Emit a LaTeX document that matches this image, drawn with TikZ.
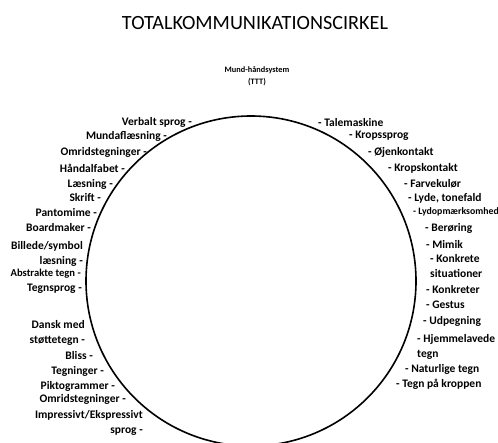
\documentclass[tikz,border=0pt]{standalone}
\usepackage{fontspec}
\setmainfont{Carlito}
\usetikzlibrary{positioning}
\tikzset{
  lbl/.style = {inner sep=0pt, font=\bfseries\fontsize{11.5}{15.5}\selectfont},
  lbl_l/.style = {lbl, anchor=east, align=right},
  lbl_r/.style = {lbl, anchor=west, align=left},
  ring/.style = {draw=black, line width=1.6pt}
}
\begin{document}
\begin{tikzpicture}[x=1pt, y=-1pt]
    \useasboundingbox (0,0) rectangle (498,443);
    \clip (0,0) rectangle (498,443);
    % title and top label
    \node[inner sep=0pt, font=\fontsize{20.2}{22}\selectfont] (title) at (255,23) {TOTALKOMMUNIKATIONSCIRKEL};
    \node[inner sep=0pt, align=center, font=\bfseries\fontsize{8.3}{12}\selectfont] (mund) at (257,76) {Mund-håndsystem\\(TTT)};
    % the circle
    \coordinate (ctr) at (251,281);
    \draw[ring] (ctr) circle[radius=165];
    % left side
    \node[lbl_l] (verbalt) at (192,122) {Verbalt sprog -};
    \node[lbl_l] (mundafl) at (167,136) {Mundaflæsning -};
    \node[lbl_l] (omrids1) at (147,152) {Omridstegninger -};
    \node[lbl_l] (haand) at (125,168) {Håndalfabet -};
    \node[lbl_l] (laes) at (113,184) {Læsning -};
    \node[lbl_l] (skrift) at (101,198) {Skrift -};
    \node[lbl_l] (panto) at (97,213) {Pantomime -};
    \node[lbl_l] (board) at (91,228) {Boardmaker -};
    \node[lbl_l] (billede) at (83,254) {Billede/symbol\\læsning -};
    \node[lbl_l, font=\bfseries\fontsize{10.6}{12}\selectfont] (abstr) at (81,274) {Abstrakte tegn -};
    \node[lbl_l] (tegnspr) at (82,289) {Tegnsprog -};
    \node[lbl_l] (dansk) at (85,333) {Dansk med\\støttetegn -};
    \node[lbl_l] (bliss) at (93,356) {Bliss -};
    \node[lbl_l] (tegninger) at (104,371) {Tegninger -};
    \node[lbl_l] (pikto) at (115,386) {Piktogrammer -};
    \node[lbl_l] (omrids2) at (126,399) {Omridstegninger -};
    \node[lbl_l] (impr) at (143,423) {Impressivt/Ekspressivt\\sprog -};
    % right side
    \node[lbl_r] (tale) at (318,123) {- Talemaskine};
    \node[lbl_r] (kropssprog) at (349,136) {- Kropssprog};
    \node[lbl_r] (oejen) at (368,152) {- Øjenkontakt};
    \node[lbl_r] (kropskont) at (388,168) {- Kropskontakt};
    \node[lbl_r] (farve) at (404,184) {- Farvekulør};
    \node[lbl_r] (lyde) at (408,198) {- Lyde, tonefald};
    \node[lbl_r, font=\bfseries\fontsize{9.8}{11}\selectfont] (lydopm) at (413,212) {- Lydopmærksomhed};
    \node[lbl_r] (beroer) at (425,228) {- Berøring};
    \node[lbl_r] (mimik) at (426,244) {- Mimik};
    \node[lbl_r] (konkrete) at (430,266) {- Konkrete\\situationer};
    \node[lbl_r] (konkreter) at (426,290) {- Konkreter};
    \node[lbl_r] (gestus) at (426,305) {- Gestus};
    \node[lbl_r] (udpeg) at (423,321) {- Udpegning};
    \node[lbl_r] (hjemme) at (417,347) {- Hjemmelavede\\tegn};
    \node[lbl_r] (natur) at (405,369) {- Naturlige tegn};
    \node[lbl_r] (kroppen) at (396,384) {- Tegn på kroppen};
\end{tikzpicture}
\end{document}
